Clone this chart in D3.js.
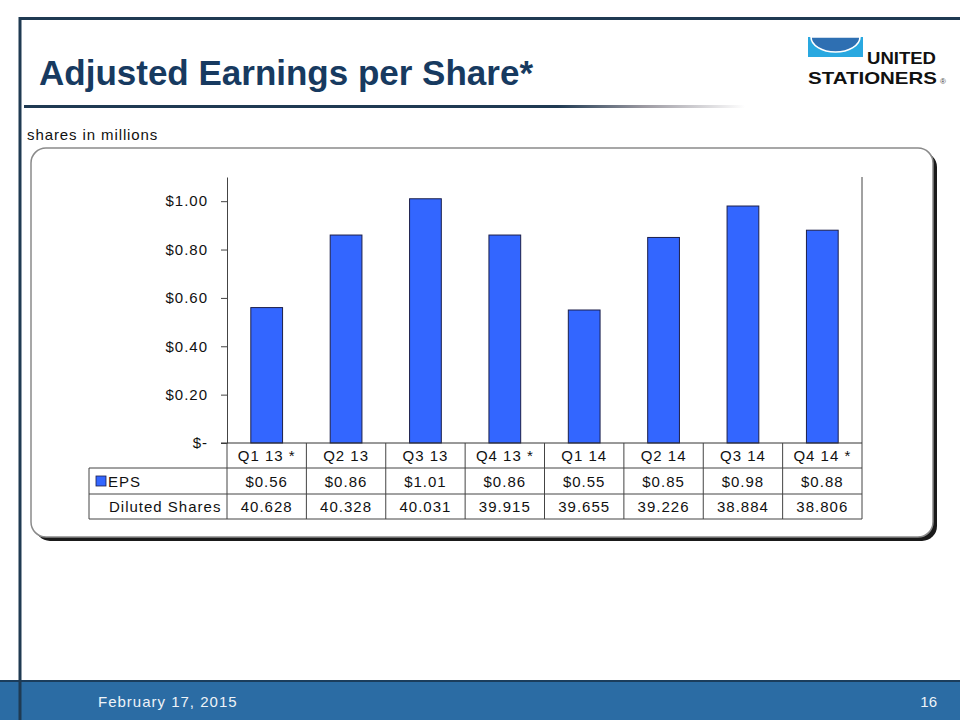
<!DOCTYPE html>
<meta charset="utf-8">
<head>
    <title>Adjusted Earnings per Share</title>
    <script src="https://cdn.jsdelivr.net/npm/d3@7"></script>
    <style>
        html, body { margin: 0; padding: 0; background: #fff; }
        svg { display: block; font-family: "Liberation Sans", Arial, sans-serif; }
    </style>
</head>
<body>
<div id="slide"></div>
<script>
    // chart data
    var quarters = ["Q1 13 *", "Q2 13", "Q3 13", "Q4 13 *", "Q1 14", "Q2 14", "Q3 14", "Q4 14 *"];
    var eps = [0.56, 0.86, 1.01, 0.86, 0.55, 0.85, 0.98, 0.88];
    var dilutedShares = [40.628, 40.328, 40.031, 39.915, 39.655, 39.226, 38.884, 38.806];
    var yTicks = [0, 0.2, 0.4, 0.6, 0.8, 1.0];
    var yTickLabels = ["$-", "$0.20", "$0.40", "$0.60", "$0.80", "$1.00"];

    var navy = "#1f3a52";

    var svg = d3.select("#slide").append("svg")
        .attr("width", 960)
        .attr("height", 720);

    var defs = svg.append("defs");
    var grad = defs.append("linearGradient")
        .attr("id", "underline")
        .attr("gradientUnits", "userSpaceOnUse")
        .attr("x1", 24).attr("x2", 745).attr("y1", 0).attr("y2", 0);
    grad.append("stop").attr("offset", 0).attr("stop-color", navy);
    grad.append("stop").attr("offset", 0.74).attr("stop-color", navy);
    grad.append("stop").attr("offset", 0.86).attr("stop-color", "#9c9aa2");
    grad.append("stop").attr("offset", 1).attr("stop-color", "#ffffff");

    // slide frame
    svg.append("line").attr("x1", 19).attr("x2", 960).attr("y1", 18.5).attr("y2", 18.5)
        .attr("stroke", navy).attr("stroke-width", 3);

    // footer band
    svg.append("rect").attr("x", 0).attr("y", 681).attr("width", 960).attr("height", 39)
        .attr("fill", "#2b6ca4");
    svg.append("line").attr("x1", 0).attr("x2", 960).attr("y1", 681).attr("y2", 681)
        .attr("stroke", "#1b3d5c").attr("stroke-width", 2);
    svg.append("line").attr("x1", 20).attr("x2", 20).attr("y1", 17).attr("y2", 720)
        .attr("stroke", navy).attr("stroke-width", 3);

    svg.append("text").attr("x", 98).attr("y", 707)
        .attr("fill", "#eef3f8").style("font-size", "15px").style("letter-spacing", "1px")
        .text("February 17, 2015");
    svg.append("text").attr("x", 937).attr("y", 707).attr("text-anchor", "end")
        .attr("fill", "#eef3f8").style("font-size", "15px")
        .text("16");

    // title
    svg.append("text").attr("x", 39).attr("y", 85)
        .attr("fill", "#173a60").style("font-size", "35px").style("font-weight", "bold")
        .text("Adjusted Earnings per Share*");
    svg.append("rect").attr("x", 24).attr("y", 105).attr("width", 721).attr("height", 3)
        .attr("fill", "url(#underline)");

    // logo
    var logo = svg.append("g");
    logo.append("rect").attr("x", 808).attr("y", 37).attr("width", 55).attr("height", 20)
        .attr("fill", "#29a8e0");
    logo.append("path")
        .attr("d", "M811,37 A24.5,15 0 0 0 860,37 Z")
        .attr("fill", "#2e6fb2").attr("stroke", "#ffffff").attr("stroke-width", 1.6);
    logo.append("text").attr("x", 867).attr("y", 64)
        .attr("textLength", 69).attr("lengthAdjust", "spacingAndGlyphs")
        .style("font-size", "17px").style("font-weight", "900").attr("fill", "#111")
        .text("UNITED");
    logo.append("text").attr("x", 808).attr("y", 84)
        .attr("textLength", 129).attr("lengthAdjust", "spacingAndGlyphs")
        .style("font-size", "17px").style("font-weight", "900").attr("fill", "#111")
        .text("STATIONERS");
    logo.append("text").attr("x", 940).attr("y", 84)
        .style("font-size", "8px").attr("fill", "#444").text("®");

    svg.append("text").attr("x", 27).attr("y", 140)
        .style("font-size", "15px").style("letter-spacing", "0.9px").attr("fill", "#111")
        .text("shares in millions");

    // chart box with shadow
    svg.append("rect").attr("x", 35).attr("y", 152).attr("width", 902).attr("height", 389)
        .attr("rx", 15).attr("fill", "#1a1a1a");
    svg.append("rect").attr("x", 31).attr("y", 148).attr("width", 902).attr("height", 389)
        .attr("rx", 15).attr("fill", "#fff").attr("stroke", "#8a8a8a").attr("stroke-width", 1.5);

    // scales
    var plotLeft = 227, plotRight = 862, plotTop = 177, plotBottom = 443;
    var x = d3.scaleBand().domain(quarters).range([plotLeft, plotRight])
        .paddingInner(0.6).paddingOuter(0.3);
    var col = d3.scaleBand().domain(quarters).range([plotLeft, plotRight]).padding(0);
    var y = d3.scaleLinear().domain([0, 1.1]).range([plotBottom, plotTop]);

    // y axis
    var yAxis = d3.axisLeft(y)
        .tickValues(yTicks)
        .tickFormat(function(d, i) { return yTickLabels[i]; })
        .tickSize(6).tickSizeOuter(0).tickPadding(13);
    var ax = svg.append("g").attr("transform", "translate(" + plotLeft + ",0)").call(yAxis);
    ax.select(".domain").attr("stroke", "#444");
    ax.selectAll(".tick line").attr("stroke", "#444");
    ax.selectAll(".tick text")
        .attr("fill", "#111")
        .style("font-family", "'Liberation Sans', Arial, sans-serif")
        .style("font-size", "15px").style("letter-spacing", "1px");

    // right border of the plot area
    svg.append("line").attr("x1", plotRight).attr("x2", plotRight).attr("y1", plotTop).attr("y2", 519)
        .attr("stroke", "#444");

    // bars
    svg.append("g").selectAll("rect")
        .data(eps)
        .enter().append("rect")
        .attr("x", function(d, i) { return x(quarters[i]); })
        .attr("width", x.bandwidth())
        .attr("y", function(d) { return y(d); })
        .attr("height", function(d) { return y(0) - y(d); })
        .attr("fill", "#3366ff")
        .attr("stroke", "#1c1f4a").attr("stroke-width", 1);

    // baseline
    svg.append("line").attr("x1", plotLeft - 6).attr("x2", plotRight).attr("y1", plotBottom).attr("y2", plotBottom)
        .attr("stroke", "#333");

    // data table
    var rowTop = [443, 468, 494, 519];
    var tableLeft = 89;
    var table = svg.append("g").attr("stroke", "#444").attr("stroke-width", 1);
    // horizontal rules
    table.append("line").attr("x1", tableLeft).attr("x2", plotRight).attr("y1", rowTop[1]).attr("y2", rowTop[1]);
    table.append("line").attr("x1", tableLeft).attr("x2", plotRight).attr("y1", rowTop[2]).attr("y2", rowTop[2]);
    table.append("line").attr("x1", tableLeft).attr("x2", plotRight).attr("y1", rowTop[3]).attr("y2", rowTop[3]);
    // vertical rules
    table.append("line").attr("x1", tableLeft).attr("x2", tableLeft).attr("y1", rowTop[1]).attr("y2", rowTop[3]);
    table.selectAll(".vcol")
        .data(quarters)
        .enter().append("line")
        .attr("x1", function(d) { return col(d); })
        .attr("x2", function(d) { return col(d); })
        .attr("y1", rowTop[0]).attr("y2", rowTop[3]);

    var cellText = svg.append("g")
        .style("font-size", "15px").style("letter-spacing", "1px").attr("fill", "#111")
        .attr("text-anchor", "middle");

    cellText.selectAll(".cat")
        .data(quarters)
        .enter().append("text")
        .attr("x", function(d) { return col(d) + col.bandwidth() / 2; })
        .attr("y", (rowTop[0] + rowTop[1]) / 2 + 5.5)
        .text(function(d) { return d; });

    cellText.selectAll(".eps")
        .data(eps)
        .enter().append("text")
        .attr("x", function(d, i) { return col(quarters[i]) + col.bandwidth() / 2; })
        .attr("y", (rowTop[1] + rowTop[2]) / 2 + 5.5)
        .text(function(d) { return "$" + d3.format(".2f")(d); });

    cellText.selectAll(".shares")
        .data(dilutedShares)
        .enter().append("text")
        .attr("x", function(d, i) { return col(quarters[i]) + col.bandwidth() / 2; })
        .attr("y", (rowTop[2] + rowTop[3]) / 2 + 5.5)
        .text(function(d) { return d3.format(".3f")(d); });

    // row labels
    svg.append("rect").attr("x", 96).attr("y", 476).attr("width", 10).attr("height", 10)
        .attr("fill", "#3366ff").attr("stroke", "#1c1f4a").attr("stroke-width", 0.8);
    svg.append("text").attr("x", 108).attr("y", (rowTop[1] + rowTop[2]) / 2 + 5.5)
        .style("font-size", "15px").style("letter-spacing", "1px").attr("fill", "#111")
        .text("EPS");
    svg.append("text").attr("x", 109).attr("y", (rowTop[2] + rowTop[3]) / 2 + 5)
        .style("font-size", "15px").style("letter-spacing", "1px").attr("fill", "#111")
        .text("Diluted Shares");
</script>
</body>
</html>
